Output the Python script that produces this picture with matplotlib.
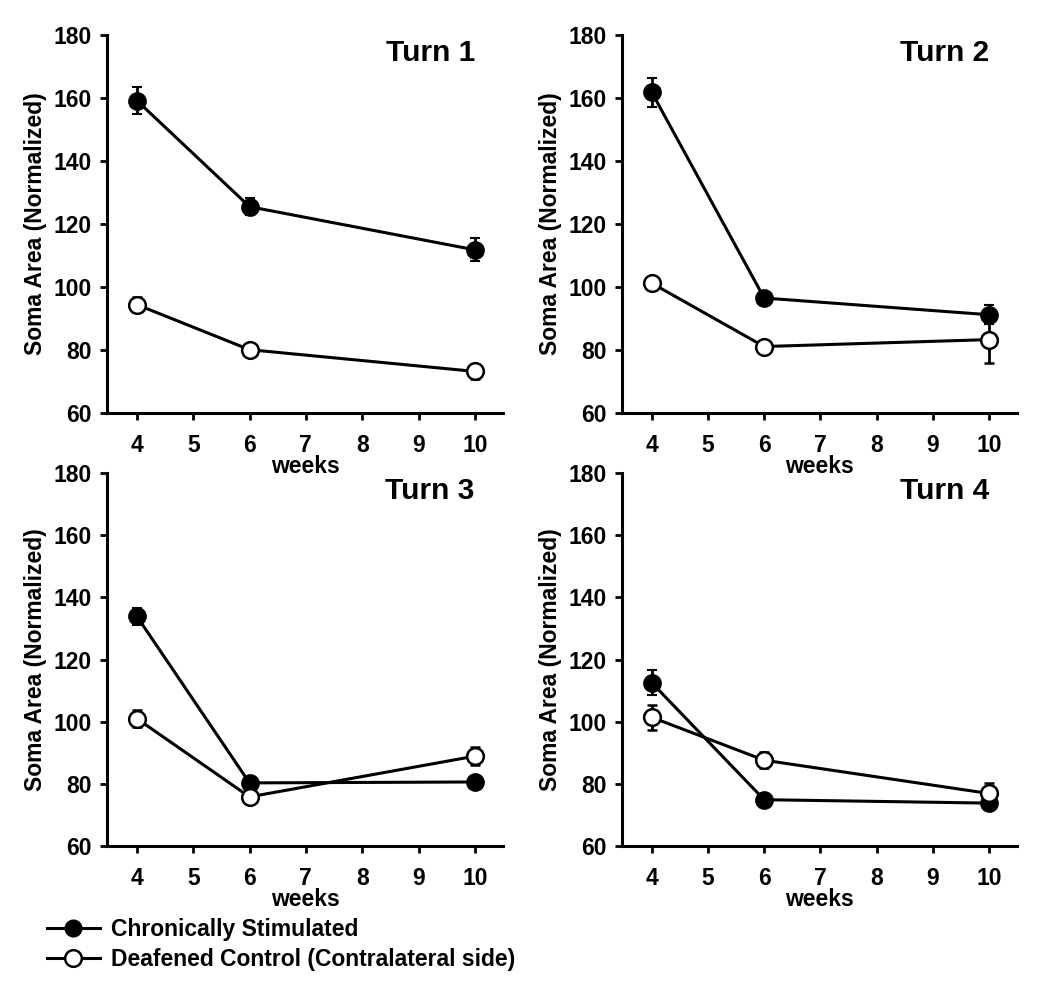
import matplotlib
matplotlib.use("Agg")
import matplotlib.pyplot as plt
from matplotlib.lines import Line2D
import numpy as np

plt.rcParams['font.family'] = ['Liberation Sans', 'DejaVu Sans']
plt.rcParams['font.weight'] = 'bold'

weeks = [4, 6, 10]
turns = ["Turn 1", "Turn 2", "Turn 3", "Turn 4"]

# Chronically stimulated (mean, error) per turn
stim_mean = [[159.2, 125.5, 111.8],
             [161.8, 96.5, 91.2],
             [133.9, 80.3, 80.6],
             [112.5, 74.9, 73.8]]
stim_err = [[4.3, 2.8, 3.6],
            [4.6, 1.5, 3.0],
            [2.7, 1.0, 1.9],
            [4.0, 1.5, 2.0]]

# Deafened control (contralateral side)
ctrl_mean = [[94.4, 80.1, 73.2],
             [101.2, 81.1, 83.3],
             [101.0, 75.8, 88.9],
             [101.4, 87.6, 76.9]]
ctrl_err = [[2.4, 1.0, 2.4],
            [2.0, 1.0, 7.4],
            [2.6, 1.0, 3.0],
            [4.0, 2.5, 3.4]]

labels = ["Chronically Stimulated", "Deafened Control (Contralateral side)"]

fig = plt.figure(figsize=(10.5, 9.89), dpi=100)

W, H = 1050, 989
# axes boxes in pixels: left, top, right, bottom
boxes = [(107, 35, 503, 413), (622, 35, 1017, 413),
         (107, 473, 503, 846), (622, 473, 1017, 846)]

lw = 2.2
fs = 16.5
for i, (l, t, r, b) in enumerate(boxes):
    ax = fig.add_axes([l / W, 1 - b / H, (r - l) / W, (b - t) / H])
    ax.errorbar(weeks, stim_mean[i], yerr=stim_err[i], color='black', lw=lw,
                marker='o', ms=12, mfc='black', mec='black', mew=1.5,
                capsize=3.5, elinewidth=2, capthick=2, zorder=3)
    ax.errorbar(weeks, ctrl_mean[i], yerr=ctrl_err[i], color='black', lw=lw,
                marker='o', ms=12, mfc='white', mec='black', mew=1.8,
                capsize=3.5, elinewidth=2, capthick=2, zorder=4)
    ax.set_xlim(3.47, 10.5)
    ax.set_ylim(60, 180)
    ax.set_xticks(range(4, 11))
    ax.set_yticks(range(60, 181, 20))
    for s in ['top', 'right']:
        ax.spines[s].set_visible(False)
    for s in ['left', 'bottom']:
        ax.spines[s].set_linewidth(2.2)
    ax.tick_params(direction='out', length=5, width=2, labelsize=fs)
    ax.tick_params(axis='x', pad=10)
    ax.tick_params(axis='y', pad=6)
    ax.set_xlabel("weeks", fontsize=fs, fontweight='bold', labelpad=-1)
    ax.set_ylabel("Soma Area (Normalized)", fontsize=fs, fontweight='bold', labelpad=5)
    ax.text(10.0, 174.2, turns[i], fontsize=21.5, fontweight='bold',
            ha='right', va='center')

handles = [Line2D([], [], color='black', lw=lw, marker='o', ms=12, mfc='black', mec='black'),
           Line2D([], [], color='black', lw=lw, marker='o', ms=12, mfc='white', mec='black', mew=1.8)]
fig.legend(handles, labels, loc='upper left', bbox_to_anchor=(47 / W, 1 - 918 / H),
           frameon=False, fontsize=fs, handlelength=2.3, handletextpad=0.5,
           labelspacing=0.3, borderaxespad=0, borderpad=0)

fig.savefig("out.png", dpi=100)
